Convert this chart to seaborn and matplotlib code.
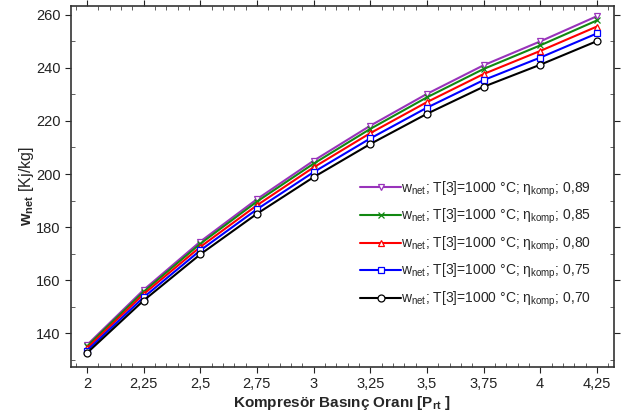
import matplotlib
matplotlib.use("Agg")
import matplotlib.pyplot as plt
from matplotlib.ticker import MultipleLocator, FixedLocator
import seaborn as sns
import pandas as pd

pressure_ratio = [2.0, 2.25, 2.5, 2.75, 3.0, 3.25, 3.5, 3.75, 4.0, 4.25]
x_tick_labels = ["2", "2,25", "2,5", "2,75", "3", "3,25", "3,5", "3,75", "4", "4,25"]
efficiency_labels = ["0,89", "0,85", "0,80", "0,75", "0,70"]
w_089 = [135.5, 156.3, 174.5, 190.5, 205.0, 218.2, 230.2, 241.0, 250.0, 259.5]
w_085 = [135.0, 155.6, 173.7, 189.6, 203.9, 217.0, 228.9, 239.6, 248.5, 257.9]
w_080 = [134.3, 154.7, 172.5, 188.2, 202.5, 215.4, 227.1, 237.7, 246.4, 255.6]
w_075 = [133.4, 153.5, 171.2, 186.7, 200.7, 213.4, 225.0, 235.4, 243.9, 253.0]
w_070 = [132.5, 152.3, 169.7, 185.0, 198.8, 211.3, 222.7, 232.9, 241.2, 250.1]
series = [w_089, w_085, w_080, w_075, w_070]

colors = ["#9933bb", "#118811", "#ff0000", "#0000ff", "#000000"]
markers = ["v", "x", "^", "s", "o"]

sns.set_style("ticks")
plt.rcParams["font.family"] = ["Liberation Sans", "DejaVu Sans"]
plt.rcParams["mathtext.fontset"] = "custom"
plt.rcParams["mathtext.rm"] = "Liberation Sans"
plt.rcParams["mathtext.it"] = "Liberation Sans:italic"
plt.rcParams["mathtext.bf"] = "Liberation Sans:bold"

fig = plt.figure(figsize=(6.27, 4.2), dpi=100)
ax = fig.add_axes([0.113, 0.126, 0.866, 0.86])

for vals, c, m, eff in zip(series, colors, markers, efficiency_labels):
    df = pd.DataFrame({"x": pressure_ratio, "y": vals})
    lbl = r"w$_{\mathrm{net}}$; T[3]=1000 °C; η$_{\mathrm{komp}}$; " + eff
    sns.lineplot(data=df, x="x", y="y", ax=ax, color=c, linewidth=1.5,
                 marker=m, markersize=5, markerfacecolor="white",
                 markeredgecolor=c, markeredgewidth=0.9, label=lbl)

ax.set_xlim(1.929, 4.325)
ax.set_ylim(127.2, 263.4)
ax.xaxis.set_major_locator(FixedLocator(pressure_ratio))
ax.set_xticklabels(x_tick_labels)
ax.xaxis.set_minor_locator(MultipleLocator(0.05))
ax.yaxis.set_major_locator(MultipleLocator(20))
ax.yaxis.set_minor_locator(MultipleLocator(10))
ax.tick_params(which="major", direction="out", length=4, width=0.8,
               top=True, right=True, labelsize=10.5, colors="#222222")
ax.tick_params(which="minor", direction="in", length=3, width=0.6,
               top=True, right=True, colors="#444444")
for s in ax.spines.values():
    s.set_linewidth(1.2)
    s.set_color("#333333")

ax.set_xlabel(r"Kompresör Basınç Oranı [P$_{\mathbf{rt}}$ ]", fontsize=11,
              fontweight="bold", labelpad=2)
ax.set_ylabel(r"$\mathbf{w_{net}}$ [Kj/kg]", fontsize=11.5, labelpad=0)

leg = ax.legend(loc="upper left", bbox_to_anchor=(0.532, 0.52), frameon=False,
                fontsize=10, labelspacing=0.6, handlelength=3.0,
                handletextpad=0.0, borderaxespad=0, borderpad=0)

fig.savefig("out.png", dpi=100)
